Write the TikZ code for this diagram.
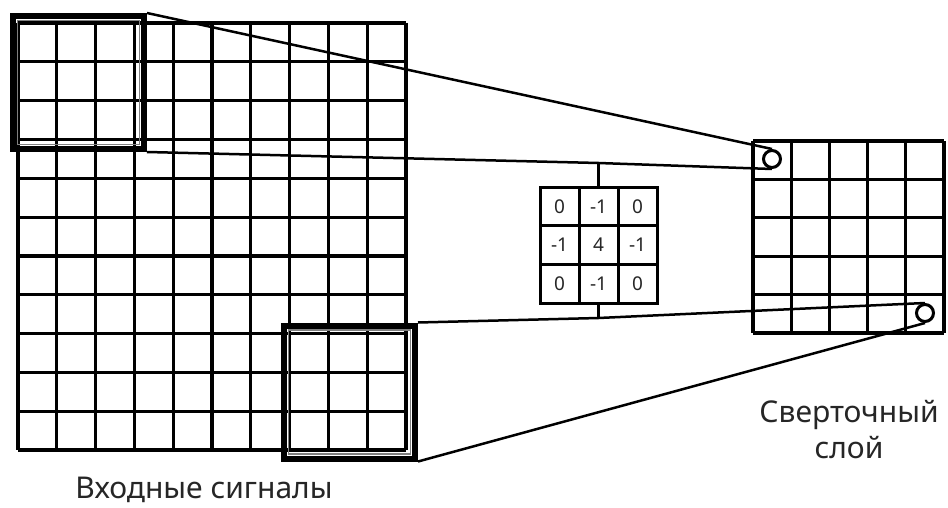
\documentclass[tikz,border=0pt]{standalone}
\usepackage{fontspec}
\setmainfont{Noto Sans}
\begin{document}
\begin{tikzpicture}[x=1pt,y=-1pt,
  gridline/.style={line width=3.2pt, black},
  winframe/.style={draw, line width=6pt, minimum width=131pt, minimum height=133pt, inner sep=0pt},
  wininner/.style={draw=gray, line width=1.6pt, minimum width=122pt, minimum height=124pt, inner sep=0pt},
  kcell/.style={draw, line width=3pt, minimum width=39pt, minimum height=38.7pt, inner sep=0pt, text=black!85, font=\fontsize{19}{19}\selectfont},
  conn/.style={line width=2.5pt},
  dotmark/.style={circle, draw, line width=3pt, minimum size=17pt, inner sep=0pt},
  lbl/.style={font=\fontsize{30}{36}\selectfont, text=black!85}]
\useasboundingbox (0,0) rectangle (948,508);
\fill[white] (0,0) rectangle (948,508);
% input grid 10 x 11
\foreach \i in {0,...,10} {
  \draw[gridline] ({18+38.8*\i},23) -- ({18+38.8*\i},450);
}
\foreach \j in {0,...,11} {
  \draw[gridline] (18,{23+38.82*\j}) -- (406,{23+38.82*\j});
}
% output grid 5 x 5
\foreach \i in {0,...,5} {
  \draw[gridline] ({753+38.2*\i},141) -- ({753+38.2*\i},333);
}
\foreach \j in {0,...,5} {
  \draw[gridline] (753,{141+38.4*\j}) -- (944,{141+38.4*\j});
}
% windows
\node[wininner] (w1i) at (78.5,82.5) {};
\node[winframe] (w1) at (78.5,82.5) {};
\node[wininner] (w2i) at (349.5,392) {};
\node[winframe] (w2) at (349.5,392) {};
% kernel
\node[kcell] (k11) at (559.5,206.4) {0};
\node[kcell] (k12) at (598.5,206.4) {-1};
\node[kcell] (k13) at (637.5,206.4) {0};
\node[kcell] (k21) at (559.5,245.1) {-1};
\node[kcell] (k22) at (598.5,245.1) {4};
\node[kcell] (k23) at (637.5,245.1) {-1};
\node[kcell] (k31) at (559.5,283.8) {0};
\node[kcell] (k32) at (598.5,283.8) {-1};
\node[kcell] (k33) at (637.5,283.8) {0};
\coordinate (kt) at (598.5,163);
\coordinate (kb) at (598.5,318);
\draw[conn] (k12.north) -- (kt);
\draw[conn] (k32.south) -- (kb);
% output markers
\node[dotmark] (c1) at (772,159) {};
\node[dotmark] (c2) at (925,313) {};
% connectors
\draw[conn] (w1.north east) -- (c1.north);
\draw[conn] (w1.south east) -- (kt) -- (c1.south);
\draw[conn] (w2.north east) -- (kb) -- (c2.north);
\draw[conn] (w2.south east) -- (c2.south);
% labels
\node[lbl] (inlbl) at (204,490) {Входные сигналы};
\node[lbl, align=center] (outlbl) at (849,430) {Сверточный\\слой};
\end{tikzpicture}
\end{document}
